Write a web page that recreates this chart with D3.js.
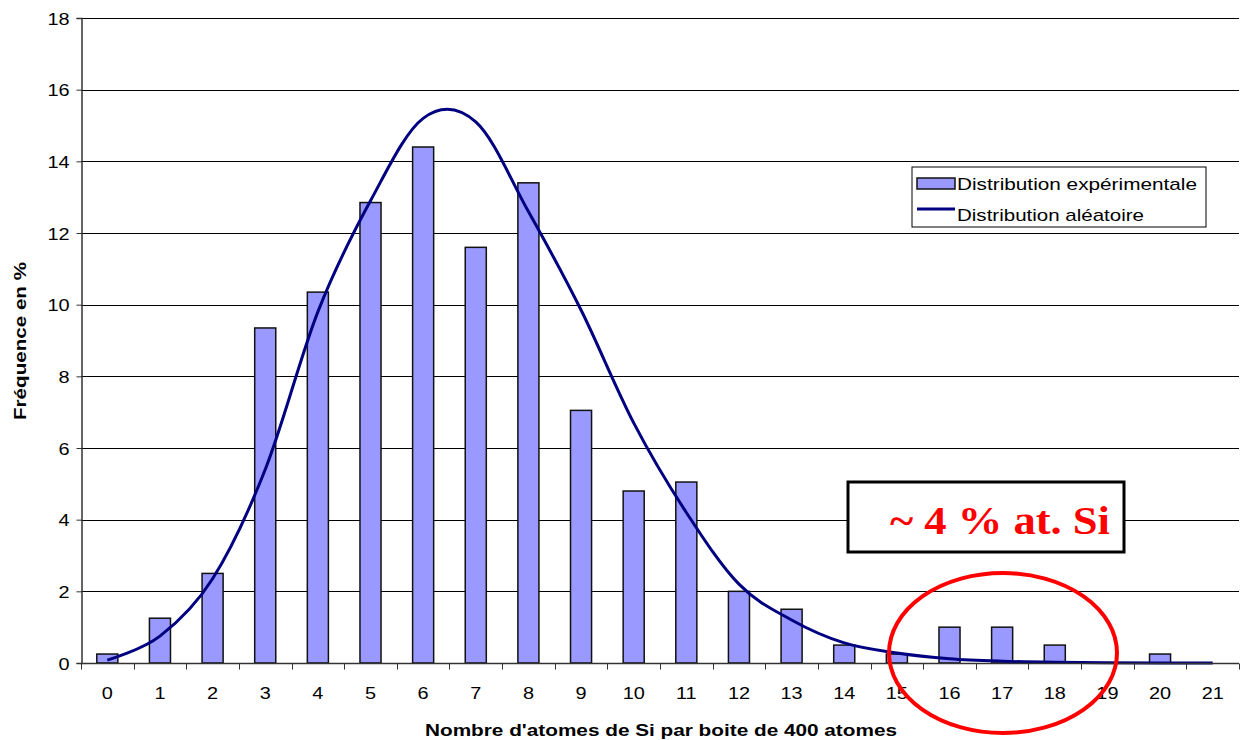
<!DOCTYPE html>
<html>
<head>
<meta charset="utf-8">
<script src="https://cdn.jsdelivr.net/npm/d3@7"></script>
<style>
  html, body { margin: 0; padding: 0; background: #fff; }
  svg { display: block; font-family: "Liberation Sans", Arial, sans-serif; }
</style>
</head>
<body>
<svg id="chart" width="1240" height="740"></svg>
<script>
// Number of Si atoms per 400-atom box
const categories = d3.range(0, 22).map(String);

// Measured frequency (%)
const experimental = [0.25, 1.25, 2.5, 9.35, 10.35, 12.85, 14.4, 11.6, 13.4, 7.05, 4.8,
                      5.05, 2.0, 1.5, 0.5, 0.25, 1.0, 1.0, 0.5, 0, 0.25, 0];

// Random (binomial) reference distribution (%)
const random = [0.08, 0.75, 2.35, 5.4, 9.8, 12.9, 15.2, 15.1, 12.6, 9.85, 6.7,
                4.2, 2.2, 1.2, 0.56, 0.28, 0.12, 0.05, 0.02, 0.01, 0, 0];

const yTicks = [0, 2, 4, 6, 8, 10, 12, 14, 16, 18];

const legendLabels = ["Distribution expérimentale", "Distribution aléatoire"];
const annotation = "~ 4 % at. Si";

const svg = d3.select("#chart");
const margin = { left: 81, right: 1, top: 18, bottom: 77 };
const W = 1240, H = 740;
const labelSize = 17;
const wide = 1.17; // horizontal widening of the axis label glyphs

const x = d3.scaleBand()
  .domain(categories)
  .range([margin.left, W - margin.right])
  .paddingInner(0).paddingOuter(0);

const y = d3.scaleLinear()
  .domain([0, 18])
  .range([H - margin.bottom, margin.top]);

// Horizontal gridlines
svg.append("g")
  .selectAll("line")
  .data(yTicks.filter(d => d > 0))
  .join("line")
  .attr("x1", margin.left).attr("x2", W - margin.right)
  .attr("y1", d => Math.round(y(d)) + 0.5).attr("y2", d => Math.round(y(d)) + 0.5)
  .attr("stroke", "#000").attr("stroke-width", 1);

// Bars
const barW = x.bandwidth() / 2.5;
svg.append("g")
  .selectAll("rect")
  .data(experimental.map((v, i) => ({ c: categories[i], v })))
  .join("rect")
  .filter(d => d.v > 0)
  .attr("x", d => x(d.c) + (x.bandwidth() - barW) / 2)
  .attr("width", barW)
  .attr("y", d => y(d.v))
  .attr("height", d => y(0) - y(d.v))
  .attr("fill", "#9999FF")
  .attr("stroke", "#111")
  .attr("stroke-width", 1.5);

// Smoothed random distribution curve
const line = d3.line()
  .x((d, i) => x(categories[i]) + x.bandwidth() / 2)
  .y(d => y(d))
  .curve(d3.curveCatmullRom.alpha(0));
svg.append("path")
  .datum(random)
  .attr("d", line)
  .attr("fill", "none")
  .attr("stroke", "#000080")
  .attr("stroke-width", 3);

// Y axis
const yAxis = d3.axisLeft(y).tickValues(yTicks).tickSize(5).tickPadding(7);
const gy = svg.append("g")
  .attr("transform", `translate(${margin.left + 0.5},0)`)
  .call(yAxis);
gy.select(".domain").attr("stroke", "#333").attr("stroke-width", 1.5);
gy.selectAll(".tick line").attr("stroke", "#333");
gy.selectAll(".tick text")
  .attr("font-size", labelSize).attr("fill", "#000")
  .attr("font-family", "Liberation Sans, Arial, sans-serif")
  .attr("x", null).attr("dy", null)
  .attr("transform", `translate(-12,6) scale(${wide},1)`);

// X axis: ticks sit on the band boundaries, labels in the band centres
const gx = svg.append("g")
  .attr("transform", `translate(0,${y(0) + 0.5})`);
gx.append("line")
  .attr("x1", margin.left).attr("x2", W - margin.right)
  .attr("stroke", "#333").attr("stroke-width", 1.5);
const bounds = categories.map(c => x(c)).concat([x(categories[categories.length - 1]) + x.bandwidth()]);
gx.selectAll("line.tk")
  .data(bounds)
  .join("line")
  .attr("class", "tk")
  .attr("x1", d => Math.round(d) + 0.5).attr("x2", d => Math.round(d) + 0.5)
  .attr("y1", 0).attr("y2", 6)
  .attr("stroke", "#333");
gx.selectAll("text")
  .data(categories)
  .join("text")
  .attr("transform", d => `translate(${x(d) + x.bandwidth() / 2},35) scale(${wide},1)`)
  .attr("text-anchor", "middle")
  .attr("font-size", labelSize)
  .text(d => d);

// Axis titles
svg.append("text")
  .attr("x", 425).attr("y", 736)
  .attr("textLength", 472).attr("lengthAdjust", "spacingAndGlyphs")
  .attr("font-size", 17).attr("font-weight", "bold")
  .text("Nombre d'atomes de Si par boite de 400 atomes");

svg.append("text")
  .attr("transform", `translate(26,420) rotate(-90)`)
  .attr("textLength", 158).attr("lengthAdjust", "spacingAndGlyphs")
  .attr("font-size", 17).attr("font-weight", "bold")
  .text("Fréquence en %");

// Legend
const lg = svg.append("g").attr("transform", "translate(912,167)");
lg.append("rect")
  .attr("width", 294).attr("height", 60)
  .attr("fill", "#fff").attr("stroke", "#000").attr("stroke-width", 1);
lg.append("rect")
  .attr("x", 5).attr("y", 11).attr("width", 38).attr("height", 11)
  .attr("fill", "#9999FF").attr("stroke", "#111").attr("stroke-width", 1.5);
lg.append("line")
  .attr("x1", 5).attr("x2", 43).attr("y1", 42).attr("y2", 42)
  .attr("stroke", "#000080").attr("stroke-width", 3);
lg.selectAll("text.lbl")
  .data(legendLabels)
  .join("text")
  .attr("class", "lbl")
  .attr("x", 45)
  .attr("y", (d, i) => 23 + i * 31)
  .attr("textLength", (d, i) => i === 0 ? 240 : 187)
  .attr("lengthAdjust", "spacingAndGlyphs")
  .attr("font-size", 17)
  .text(d => d);

// Annotation box
svg.append("rect")
  .attr("x", 848).attr("y", 482).attr("width", 276).attr("height", 70)
  .attr("fill", "#fff").attr("stroke", "#000").attr("stroke-width", 3);
svg.append("text")
  .attr("x", 890).attr("y", 534)
  .attr("textLength", 220).attr("lengthAdjust", "spacingAndGlyphs")
  .attr("font-family", "Liberation Serif, Times New Roman, serif")
  .attr("font-size", 40).attr("font-weight", "bold")
  .attr("fill", "#FF0000")
  .text(annotation);

// Highlight ellipse around the high-Si tail
svg.append("ellipse")
  .attr("cx", 1003).attr("cy", 653)
  .attr("rx", 114).attr("ry", 80)
  .attr("fill", "none")
  .attr("stroke", "#FF0000").attr("stroke-width", 4);
</script>
</body>
</html>
